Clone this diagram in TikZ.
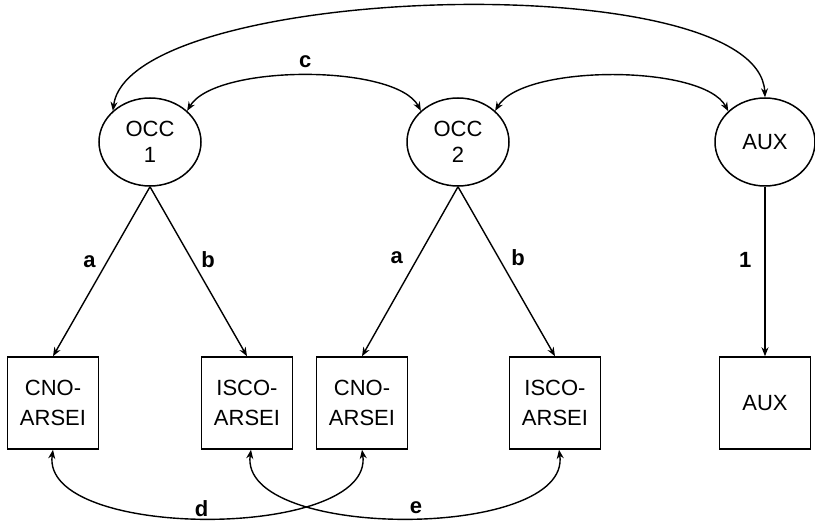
\documentclass[tikz,border=0pt]{standalone}
\usepackage{fontspec}
\setmainfont{Liberation Sans}
\usetikzlibrary{arrows.meta,shapes.geometric,positioning}

\tikzset{
  latent/.style={draw, ellipse, line width=1.5pt, minimum width=102pt, minimum height=88pt,
    inner sep=0pt, align=center, font=\fontsize{22}{26}\selectfont},
  observed/.style={draw, rectangle, line width=1.5pt, minimum width=91pt, minimum height=92pt,
    inner sep=0pt, align=center, font=\fontsize{22}{30}\selectfont},
  load/.style={-{Stealth[length=9pt,width=7pt]}, line width=1.4pt},
  cov/.style={{Stealth[length=9pt,width=7pt]}-{Stealth[length=9pt,width=7pt]}, line width=1.4pt},
  coef/.style={font=\bfseries\fontsize{22}{24}\selectfont, inner sep=1pt}
}

\begin{document}
\begin{tikzpicture}[x=1pt,y=-1pt]
  \useasboundingbox (0,0) rectangle (815,521);
  % Latent variables
  \node[latent] (occ1) at (150,142) {OCC\\1};
  \node[latent] (occ2) at (458,142) {OCC\\2};
  \node[latent, minimum width=100pt] (aux) at (765,142) {AUX};
  % Observed indicators
  \node[observed] (cno1) at (53,403) {CNO-\\ARSEI};
  \node[observed] (isco1) at (247,403) {ISCO-\\ARSEI};
  \node[observed] (cno2) at (362,403) {CNO-\\ARSEI};
  \node[observed] (isco2) at (555,403) {ISCO-\\ARSEI};
  \node[observed] (auxo) at (765,403) {AUX};
  % Loadings
  \draw[load] (occ1.south) -- (cno1.north) node[coef, pos=.44, left=10pt] {a};
  \draw[load] (occ1.south) -- (isco1.north) node[coef, pos=.43, right=8pt] {b};
  \draw[load] (occ2.south) -- (cno2.north) node[coef, pos=.42, left=13pt] {a};
  \draw[load] (occ2.south) -- (isco2.north) node[coef, pos=.42, right=11pt] {b};
  \draw[load] (aux.south) -- (auxo.north) node[coef, pos=.43, left=12pt] {1};
  % Covariances between latents
  \draw[cov] (occ1.140) .. controls +(17,-128) and +(-6,-133) .. (aux.north);
  \draw[cov] (occ1.40) .. controls +(28,-47) and +(-25,-47) .. (occ2.140)
    node[coef, pos=.5, above=6.5pt] {c};
  \draw[cov] (occ2.40) .. controls +(28,-47) and +(-25,-47) .. (aux.140);
  % Correlated errors
  \draw[cov] (cno1.south) .. controls +(-13,91) and +(13,91) .. (cno2.south)
    node[coef, pos=.5, above=0pt, xshift=-6pt] {d};
  \draw[cov] ([xshift=4pt]isco1.south) .. controls +(-13,91) and +(13,91) .. ([xshift=4pt]isco2.south)
    node[coef, pos=.5, above=3pt, xshift=11pt] {e};
\end{tikzpicture}
\end{document}
